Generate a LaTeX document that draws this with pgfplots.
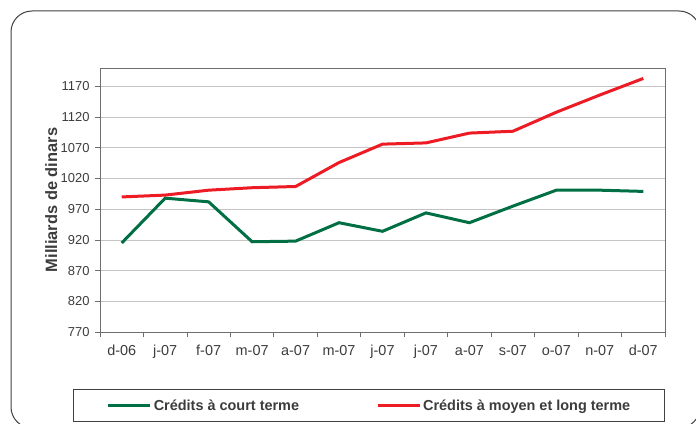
\documentclass[border=0pt]{standalone}
\usepackage{fontspec}
\setmainfont{Liberation Sans}
\usepackage{pgfplots}
\pgfplotsset{compat=1.18}
\definecolor{cgreen}{RGB}{0,112,68}
\definecolor{cred}{RGB}{237,28,36}
\definecolor{gridcol}{RGB}{200,195,195}
\definecolor{labgray}{RGB}{60,60,60}
\definecolor{framegray}{RGB}{64,64,64}
\definecolor{axisgray}{RGB}{110,110,110}
\begin{document}
\begin{tikzpicture}[x=1bp,y=1bp]
\draw[color=framegray, line width=1bp, rounded corners=21bp] (11,-5) rectangle (700,412);
\draw[color=framegray, line width=1bp] (73,1.3) rectangle (664,34);
\begin{axis}[
  at={(100bp,91bp)}, anchor=south west,
  scale only axis, width=565bp, height=264bp,
  xmin=-0.5, xmax=12.5, ymin=770, ymax=1200,
  xtick={0,...,12},
  xticklabels={d-06,j-07,f-07,m-07,a-07,m-07,j-07,j-07,a-07,s-07,o-07,n-07,d-07},
  major x tick style={draw=none},
  minor xtick={-0.5,0.5,...,12.5},
  ytick={770,820,...,1170},
  ymajorgrids, grid style={color=gridcol, line width=0.8bp},
  tick align=outside,
  major tick length=5bp, minor tick length=5bp,
  tick style={color=axisgray, line width=0.8bp},
  axis line style={color=axisgray, line width=0.8bp},
  xtick pos=bottom, ytick pos=left,
  /pgf/number format/assume math mode=true,
  /pgf/number format/1000 sep={},
  x tick label style={font=\fontsize{14.5}{16}\selectfont, text=labgray, yshift=-5bp},
  y tick label style={font=\fontsize{13}{15}\selectfont, text=labgray, xshift=-2bp},
  ylabel={Milliards de dinars},
  ylabel style={at={(axis description cs:-0.0865,0.5)}, anchor=center, font=\bfseries\fontsize{16.5}{18}\selectfont, text=labgray},
  legend style={at={(axis description cs:0.477,-0.280)}, anchor=center, draw=none, fill=none,
    font=\bfseries\fontsize{14.5}{16}\selectfont, text=labgray,
    /tikz/every even column/.append style={column sep=75bp}},
  legend columns=2,
  legend image code/.code={\draw[#1] (0bp,0bp) -- (42bp,0bp);},
]
\addplot[cgreen, line width=3bp] coordinates {
(0,915) (1,988) (2,982) (3,917) (4,918) (5,948) (6,934) (7,964) (8,948) (9,975) (10,1001) (11,1001) (12,999)};
\addlegendentry{Crédits à court terme}
\addplot[cred, line width=3bp] coordinates {
(0,990) (1,993) (2,1001) (3,1005) (4,1007) (5,1046) (6,1076) (7,1078) (8,1094) (9,1097) (10,1128) (11,1156) (12,1183)};
\addlegendentry{Crédits à moyen et long terme}
\end{axis}
\pgfresetboundingbox
\path[use as bounding box] (0,0) rectangle (696,423);
\end{tikzpicture}
\end{document}
